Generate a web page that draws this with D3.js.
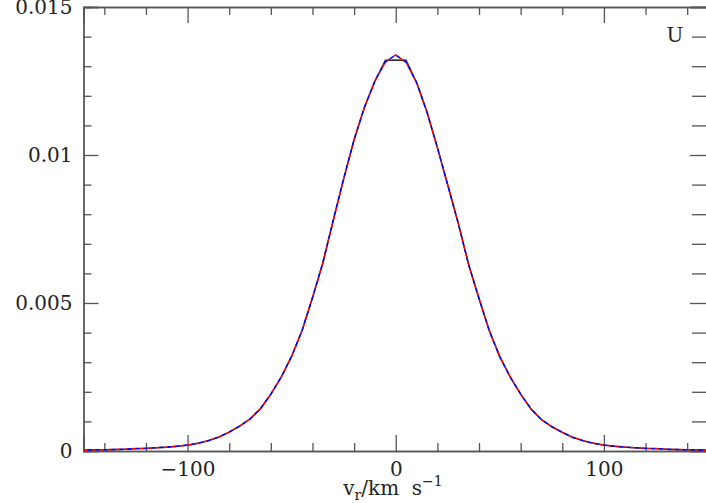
<!DOCTYPE html>
<html>
<head>
<meta charset="utf-8">
<script src="https://cdn.jsdelivr.net/npm/d3@7"></script>
<style>
  body { margin: 0; background: #fff; }
  svg text { font-family: "DejaVu Serif", serif; fill: #222; }
</style>
</head>
<body>
<svg id="chart" width="706" height="503"></svg>
<script>
// radial velocity grid (km/s)
var velocity = [-150,-145,-140,-135,-130,-125,-120,-115,-110,-105,-100,-95,-90,-85,-80,-75,-70,-65,-60,-55,-50,-45,-40,-35,-30,-25,-20,-15,-10,-5,
                0,5,10,15,20,25,30,35,40,45,50,55,60,65,70,75,80,85,90,95,100,105,110,115,120,125,130,135,140,145,150];

// model profile (solid black)
var modelU = [0.00003,0.00004,0.00004,0.00005,0.00006,0.00008,0.00009,0.00011,0.00013,0.00016,0.00020,0.00026,0.00035,0.00047,0.00064,0.00084,0.00108,0.00143,0.00192,0.00250,0.00320,0.00407,0.00518,0.00636,0.00780,0.00920,0.01052,0.01162,0.01250,0.01320,
              0.01321,0.01320,0.01245,0.01145,0.01025,0.00898,0.00770,0.00630,0.00515,0.00405,0.00318,0.00250,0.00192,0.00142,0.00106,0.00082,0.00063,0.00046,0.00035,0.00026,0.00020,0.00016,0.00013,0.00011,0.00009,0.00008,0.00006,0.00005,0.00004,0.00004,0.00003];

// two comparison profiles (red and blue dashed)
var redU = [0.00003,0.00004,0.00004,0.00005,0.00006,0.00008,0.00009,0.00011,0.00013,0.00016,0.00020,0.00026,0.00035,0.00047,0.00064,0.00084,0.00108,0.00143,0.00192,0.00250,0.00320,0.00407,0.00518,0.00636,0.00780,0.00920,0.01052,0.01162,0.01250,0.01314,
            0.01338,0.01313,0.01245,0.01145,0.01025,0.00898,0.00770,0.00630,0.00515,0.00405,0.00318,0.00250,0.00192,0.00142,0.00106,0.00082,0.00063,0.00046,0.00035,0.00026,0.00020,0.00016,0.00013,0.00011,0.00009,0.00008,0.00006,0.00005,0.00004,0.00004,0.00003];
var blueU = [0.00003,0.00004,0.00004,0.00005,0.00006,0.00008,0.00009,0.00011,0.00013,0.00016,0.00020,0.00026,0.00035,0.00047,0.00064,0.00084,0.00108,0.00143,0.00192,0.00250,0.00320,0.00407,0.00518,0.00636,0.00780,0.00920,0.01052,0.01162,0.01250,0.01314,
             0.01338,0.01313,0.01245,0.01145,0.01025,0.00898,0.00770,0.00630,0.00515,0.00405,0.00318,0.00250,0.00192,0.00142,0.00106,0.00082,0.00063,0.00046,0.00035,0.00026,0.00020,0.00016,0.00013,0.00011,0.00009,0.00008,0.00006,0.00005,0.00004,0.00004,0.00003];

var xMajor = [-100, 0, 100];
var xMinor = [-140,-120,-80,-60,-40,-20,20,40,60,80,120,140];
var yMajor = [0, 0.005, 0.01, 0.015];
var yMinor = [0.001,0.002,0.003,0.004,0.006,0.007,0.008,0.009,0.011,0.012,0.013,0.014];

var svg = d3.select('#chart');

var plotLeft = 83.5, plotRight = 708, plotTop = 7, plotBottom = 451;

var x = d3.scaleLinear().domain([-150, 150]).range([plotLeft, plotRight]);
var y = d3.scaleLinear().domain([0, 0.015]).range([plotBottom, plotTop]);

function yFmt(d) { return d === 0 ? '0' : String(+d.toFixed(3)); }

function styleAxis(g) {
   g.select('.domain').attr('stroke', '#555').attr('stroke-width', 1.3);
   g.selectAll('.tick line').attr('stroke', '#555').attr('stroke-width', 1.3);
   g.selectAll('.tick text')
      .style('font-family', '"DejaVu Serif", serif')
      .style('font-size', '20px')
      .attr('fill', '#222');
}

// bottom
svg.append('g').attr('transform', 'translate(0,' + plotBottom + ')')
   .call(d3.axisBottom(x).tickValues(xMajor).tickSize(-16).tickPadding(11))
   .call(styleAxis);
svg.append('g').attr('transform', 'translate(0,' + plotBottom + ')')
   .call(d3.axisBottom(x).tickValues(xMinor).tickSize(-8).tickFormat(''))
   .call(styleAxis);
// top
svg.append('g').attr('transform', 'translate(0,' + plotTop + ')')
   .call(d3.axisTop(x).tickValues(xMajor).tickSize(-16).tickFormat(''))
   .call(styleAxis);
svg.append('g').attr('transform', 'translate(0,' + plotTop + ')')
   .call(d3.axisTop(x).tickValues(xMinor).tickSize(-8).tickFormat(''))
   .call(styleAxis);
// left
svg.append('g').attr('transform', 'translate(' + plotLeft + ',0)')
   .call(d3.axisLeft(y).tickValues(yMajor).tickSize(-15).tickPadding(11).tickFormat(yFmt))
   .call(styleAxis);
svg.append('g').attr('transform', 'translate(' + plotLeft + ',0)')
   .call(d3.axisLeft(y).tickValues(yMinor).tickSize(-8).tickFormat(''))
   .call(styleAxis);
// right
svg.append('g').attr('transform', 'translate(' + plotRight + ',0)')
   .call(d3.axisRight(y).tickValues(yMajor).tickSize(-18).tickFormat(''))
   .call(styleAxis);
svg.append('g').attr('transform', 'translate(' + plotRight + ',0)')
   .call(d3.axisRight(y).tickValues(yMinor).tickSize(-16).tickFormat(''))
   .call(styleAxis);

// curves
function lineFor(vals) {
   return d3.line()
      .x(function(d, i) { return x(velocity[i]); })
      .y(function(d) { return y(d); })(vals);
}

svg.append('path')
   .attr('d', lineFor(modelU))
   .attr('fill', 'none')
   .attr('stroke', '#333')
   .attr('stroke-width', 1.4);

svg.append('path')
   .attr('d', lineFor(redU))
   .attr('fill', 'none')
   .attr('stroke', '#ff0000')
   .attr('stroke-width', 1.6)
   .attr('stroke-dasharray', '4,4');

svg.append('path')
   .attr('d', lineFor(blueU))
   .attr('fill', 'none')
   .attr('stroke', '#0000ff')
   .attr('stroke-width', 1.6)
   .attr('stroke-dasharray', '4,4')
   .attr('stroke-dashoffset', 4);

// panel label
svg.append('text')
   .attr('x', 675)
   .attr('y', 42)
   .attr('text-anchor', 'middle')
   .style('font-size', '20px')
   .text('U');

// x axis title
var xt = svg.append('text')
   .attr('x', 393)
   .attr('y', 495)
   .attr('text-anchor', 'middle')
   .style('font-size', '20px');
xt.append('tspan').text('v');
xt.append('tspan').attr('dy', 5).style('font-size', '14px').text('r');
xt.append('tspan').attr('dy', -5).text('/km\u00a0\u00a0s');
xt.append('tspan').attr('dy', -9).style('font-size', '14px').text('\u22121');
</script>
</body>
</html>
